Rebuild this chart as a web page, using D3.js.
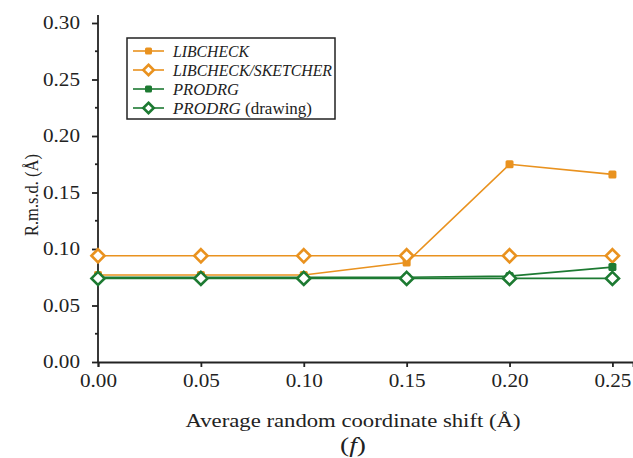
<!DOCTYPE html>
<html>
<head>
<meta charset="utf-8">
<script src="https://cdn.jsdelivr.net/npm/d3@7"></script>
<style>
  body { margin: 0; background: #fff; }
  text { font-family: "Liberation Serif", "Times New Roman", serif; fill: #222; }
</style>
</head>
<body>
<svg width="633" height="458"></svg>
<script>
const shifts = [0.00, 0.05, 0.10, 0.15, 0.20, 0.25];
const libcheck = [0.077, 0.077, 0.077, 0.088, 0.175, 0.166];
const libcheckSketcher = [0.094, 0.094, 0.094, 0.094, 0.094, 0.094];
const prodrg = [0.075, 0.075, 0.075, 0.075, 0.076, 0.084];
const prodrgDrawing = [0.074, 0.074, 0.074, 0.074, 0.074, 0.074];
const xTicks = [0.00, 0.05, 0.10, 0.15, 0.20, 0.25];
const yTicks = [0.00, 0.05, 0.10, 0.15, 0.20, 0.25, 0.30];

const orange = "#e9921f";
const green = "#1d7a32";

const series = [
  { name: "LIBCHECK", extra: "", values: libcheck, color: orange, marker: "square", w: 76 },
  { name: "LIBCHECK/SKETCHER", extra: "", values: libcheckSketcher, color: orange, marker: "diamond", w: 159 },
  { name: "PRODRG", extra: "", values: prodrg, color: green, marker: "square", w: 66 },
  { name: "PRODRG", extra: " (drawing)", values: prodrgDrawing, color: green, marker: "diamond", w: 139 }
];

const svg = d3.select("svg");
const x = d3.scaleLinear().domain([0, 0.26]).range([98, 633]);
const y = d3.scaleLinear().domain([0, 0.30]).range([362, 23]);

// axes
const gx = svg.append("g").attr("transform", `translate(0,${y(0)})`)
  .call(d3.axisBottom(x).tickValues(xTicks).tickFormat(d3.format(".2f")).tickSizeOuter(0).tickSize(5).tickPadding(7));
const gy = svg.append("g").attr("transform", `translate(${x(0)},0)`)
  .call(d3.axisLeft(y).tickValues(yTicks).tickFormat(d3.format(".2f")).tickSizeOuter(0).tickSize(6).tickPadding(12));
// minor y ticks
gy.selectAll(".minor").data(d3.range(0.025, 0.3, 0.05)).enter().append("line")
  .attr("x1", -3).attr("x2", 0).attr("y1", d => y(d)).attr("y2", d => y(d))
  .attr("stroke", "#222").attr("stroke-width", 1.5);
gy.select(".domain").attr("d", `M0,${y(0)}V15`);
[gx, gy].forEach(g => {
  g.selectAll("path, line").attr("stroke", "#222").attr("stroke-width", 1.8);
  g.selectAll("text").style("font-size", "18px").attr("fill", "#222")
    .attr("textLength", 37).attr("lengthAdjust", "spacingAndGlyphs");
});

const line = d3.line().x((d, i) => x(shifts[i])).y(d => y(d));

function marker(g, type, color, size) {
  if (type === "square") {
    g.append("rect").attr("x", -size / 2).attr("y", -size / 2).attr("width", size).attr("height", size)
      .attr("rx", 1.5).attr("fill", color);
  } else {
    g.append("path").attr("d", d3.symbol(d3.symbolDiamond2, size * size * 1.1)())
      .attr("fill", "#fff").attr("stroke", color).attr("stroke-width", 2.6);
  }
}

series.forEach(s => {
  svg.append("path").datum(s.values).attr("d", line)
    .attr("fill", "none").attr("stroke", s.color).attr("stroke-width", 1.6);
  s.values.forEach((v, i) => {
    const g = svg.append("g").attr("transform", `translate(${x(shifts[i])},${y(v)})`);
    marker(g, s.marker, s.color, s.marker === "square" ? 8 : 10);
  });
});

// legend
const lg = svg.append("g");
lg.append("rect").attr("x", 127).attr("y", 38).attr("width", 208).attr("height", 81)
  .attr("fill", "#fff").attr("stroke", "#222").attr("stroke-width", 1.5);
series.forEach((s, i) => {
  const ly = 51 + i * 19;
  lg.append("line").attr("x1", 133).attr("x2", 164).attr("y1", ly).attr("y2", ly)
    .attr("stroke", s.color).attr("stroke-width", 1.6);
  const g = lg.append("g").attr("transform", `translate(148.5,${ly})`);
  marker(g, s.marker, s.color, s.marker === "square" ? 7 : 8);
  const t = lg.append("text").attr("x", 173).attr("y", ly + 5.5).style("font-size", "16px")
    .attr("textLength", s.w).attr("lengthAdjust", "spacingAndGlyphs");
  t.append("tspan").style("font-style", "italic").text(s.name);
  if (s.extra) t.append("tspan").text(s.extra);
});

// axis titles
svg.append("text").attr("x", 353).attr("y", 427).attr("text-anchor", "middle")
  .style("font-size", "18px").attr("textLength", 335).attr("lengthAdjust", "spacingAndGlyphs")
  .text("Average random coordinate shift (Å)");
svg.append("text").attr("x", 353).attr("y", 452).attr("text-anchor", "middle")
  .style("font-size", "20px").attr("textLength", 26).attr("lengthAdjust", "spacingAndGlyphs")
  .html('(<tspan font-style="italic">f</tspan>)');
svg.append("text").attr("transform", "translate(38,195) rotate(-90)").attr("text-anchor", "middle")
  .style("font-size", "19px").attr("textLength", 82).attr("lengthAdjust", "spacingAndGlyphs")
  .text("R.m.s.d. (Å)");
</script>
</body>
</html>
